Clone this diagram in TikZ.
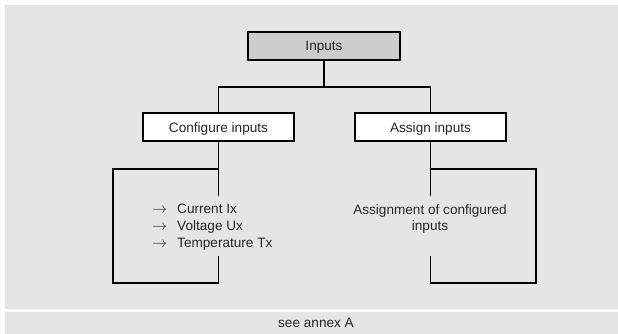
\documentclass[tikz,border=0pt]{standalone}
\usepackage{graphicx}
\usepackage{fontspec}
\setmainfont{Liberation Sans}
\definecolor{panelgray}{HTML}{E5E5E5}
\definecolor{boxgray}{HTML}{CCCCCC}
\newcommand{\rarr}{\scalebox{1.05}{$\rightarrow$}}
\begin{document}
\begin{tikzpicture}[x=1pt,y=-1pt,
  every node/.style={font=\fontsize{13.6}{16}\selectfont, text=black!85},
  box/.style={draw=black, line width=1.8pt, fill=white, minimum width=151pt, minimum height=28pt, inner sep=0pt, text height=10pt, text depth=0pt},
  conn/.style={draw=black, line width=1.8pt},
  txt/.style={inner sep=0pt, anchor=base west}]
\useasboundingbox (0,0) rectangle (618,334);
\fill[panelgray] (5,5) rectangle (618,309);
\fill[panelgray] (5,312) rectangle (618,334);
\node[inner sep=0pt] (foot) at (316,323) {see annex A};

\node[box, fill=boxgray, minimum width=152pt] (inp) at (324,46) {Inputs};
\node[box] (cfg) at (218.5,127) {Configure inputs};
\node[box] (asg) at (430.5,127) {Assign inputs};

\coordinate (bus) at (0,87);
\draw[conn] (inp.south) -- (inp.south |- bus);
\draw[conn] (cfg.north) |- (asg.north |- bus) -- (asg.north);

\coordinate (lt) at (113,169);
\coordinate (lb) at (113,283);
\coordinate (rt) at (536,169);
\coordinate (rb) at (536,283);
\draw[conn] (cfg.south) -- ++(0,54);
\draw[conn] (lt -| cfg.south) -- (lt) -- (lb) -- (lb -| cfg.south) -- ++(0,-27);
\draw[conn] (asg.south) -- ++(0,54);
\draw[conn] (rt -| asg.south) -- (rt) -- (rb) -- (rb -| asg.south) -- ++(0,-27);

\node[txt] (a1) at (152,213) {\rarr};
\node[txt] (l1) at (177,213) {Current Ix};
\node[txt] (a2) at (152,230) {\rarr};
\node[txt] (l2) at (177,230) {Voltage Ux};
\node[txt] (a3) at (152,247) {\rarr};
\node[txt] (l3) at (177,247) {Temperature Tx};

\node[inner sep=0pt, align=center, anchor=base] (asgtxt) at (430,230) {Assignment of configured\\inputs};
\end{tikzpicture}
\end{document}
